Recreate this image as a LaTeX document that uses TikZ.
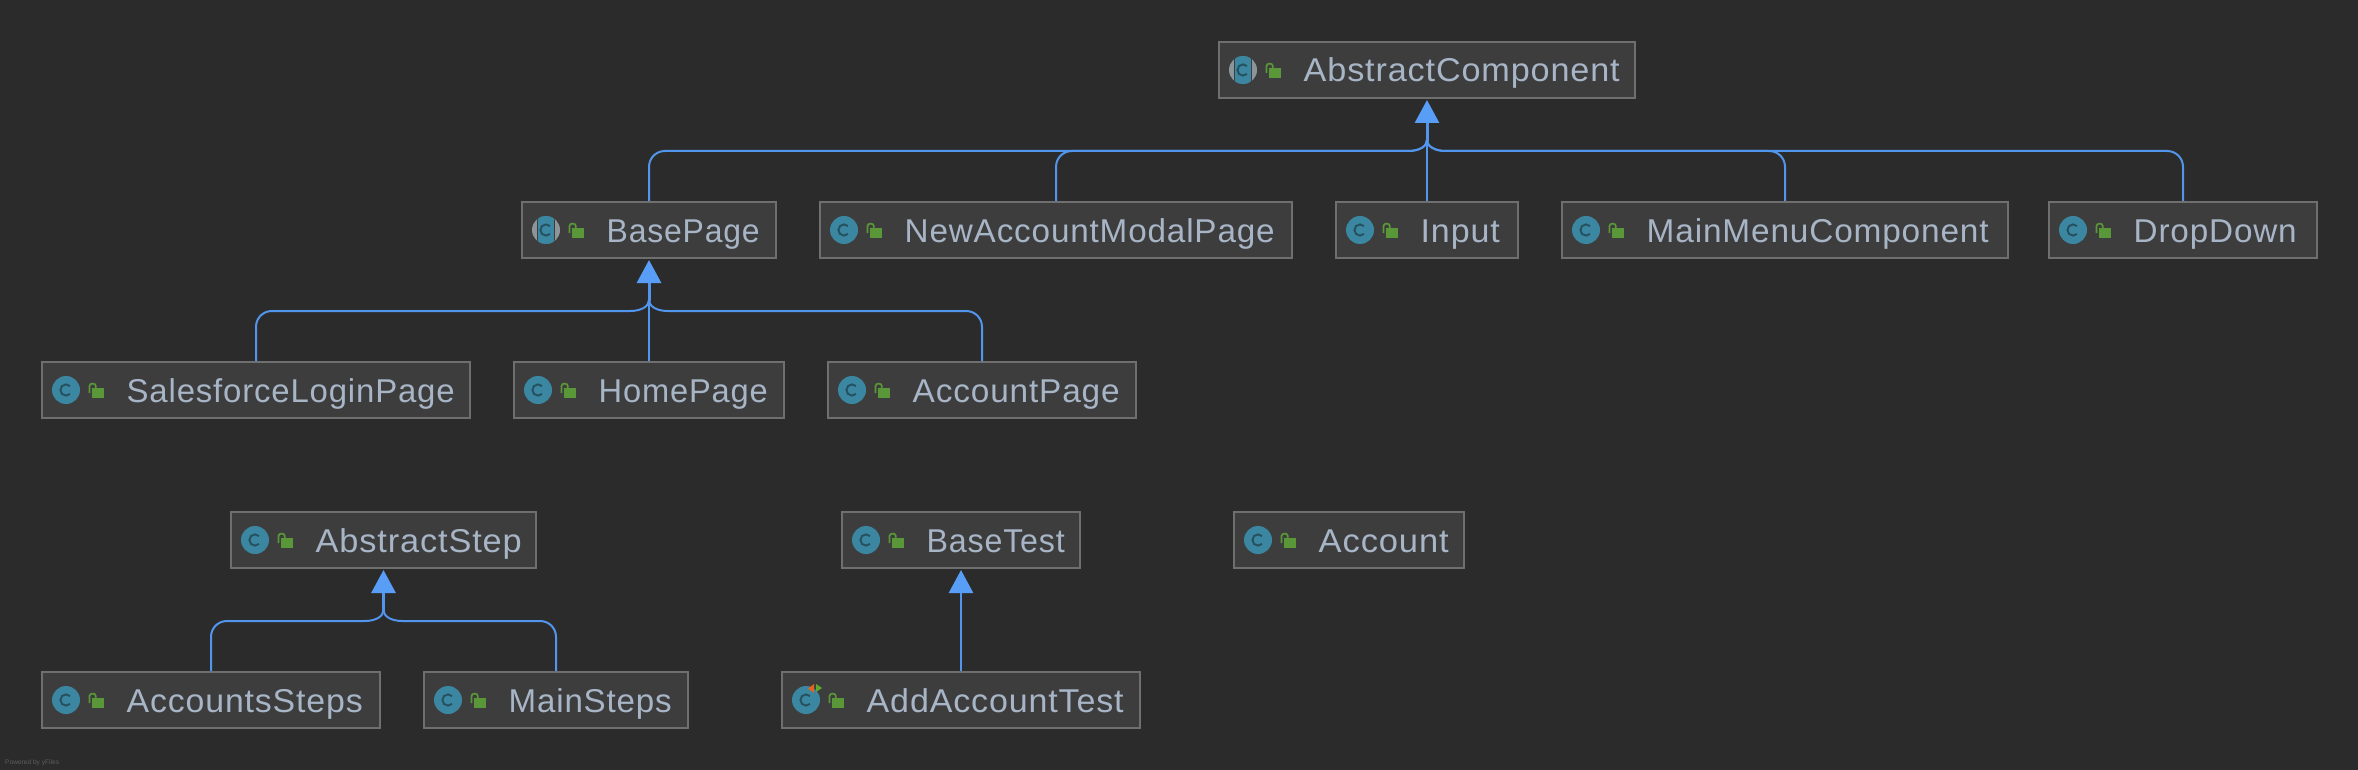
\documentclass[tikz,border=0pt]{standalone}
\usepackage{graphicx}
\usepackage{fontspec}
\setmainfont[LetterSpace=2.5]{Liberation Sans}
\newfontfamily\footfont{Liberation Sans}
\usetikzlibrary{arrows.meta}
\definecolor{bgc}{HTML}{2B2B2B}
\definecolor{boxc}{HTML}{3D3D3D}
\definecolor{edgec}{HTML}{6F6F6F}
\definecolor{txtc}{HTML}{A7B5C6}
\definecolor{linkc}{HTML}{5295EC}
\definecolor{tipc}{HTML}{589DF6}
\definecolor{tealc}{HTML}{3B87A2}
\definecolor{cinkc}{HTML}{25505F}
\definecolor{lockc}{HTML}{599738}
\definecolor{absc}{HTML}{8C9599}
\definecolor{orangec}{HTML}{E2641F}
\definecolor{greenc}{HTML}{5DA82E}
\newlength{\lblw}
\newcommand{\fitw}[2]{\settowidth{\lblw}{#2}\pgfmathsetmacro{\lblratio}{#1/\lblw}\scalebox{\lblratio}[1]{#2}}
\tikzset{
  clsbox/.style={draw=edgec,fill=boxc,line width=2pt,inner sep=0pt,anchor=north west},
  clstext/.style={inner sep=0pt,anchor=base west,text=txtc,font=\fontsize{33}{36}\selectfont},
  conn/.style={draw=linkc,line width=2pt},
  tiparrow/.style={conn,-{Triangle[length=23pt,width=24pt,color=tipc]}},
}
\newcommand{\clsicon}{%
  \fill[tealc] (25,29) circle[radius=14pt];
}
\newcommand{\absicon}{%
  \begin{scope}
    \clip (25,29) circle[radius=14pt];
    \fill[absc] (10,14) rectangle (40,44);
    \fill[boxc] (15.8,14) rectangle (34.2,44);
    \fill[tealc] (17.3,14) rectangle (32.7,44);
  \end{scope}
}
\newcommand{\testicon}{%
  \clsicon
  \fill[orangec] (33,13) -- (33,22) -- (27,17.5) -- cycle;
  \fill[greenc] (35,13) -- (35,21) -- (41,17) -- cycle;
}
% \cls{name}{x1}{x2}{y1}{label}{icon}{label width}
\newcommand{\cls}[7]{%
  \pgfmathsetmacro{\boxw}{#3-#2-2}
  \node[clsbox,minimum width=\boxw pt,minimum height=56pt] (#1) at (#2,#4) {};
  \begin{scope}[shift={(#1.north west)}]
    #6
    \draw[cinkc,line width=1.9pt] (25,29) ++(45:5.6pt) arc[start angle=45,end angle=315,radius=5.6pt];
    \fill[lockc] (51,27) rectangle (63,37);
    \draw[lockc,line width=1.7pt] (48.5,32) -- (48.5,25) .. controls (48.5,21.8) and (54.8,21.8) .. (54.8,25) -- (54.8,27);
  \end{scope}
  \node[clstext] (#1-t) at (#2+85.5,#4+41) {\fitw{#7}{#5}};
}
% child, parent, side of the child (-1 left, 1 right)
\newcommand{\inherit}[3]{%
  \coordinate (busmid) at ([yshift=-52pt]#2.south);
  \coordinate (buscorner) at (#1.north |- busmid);
  \draw[conn] (#1.north) -- ([yshift=-16pt]buscorner)
    .. controls ([yshift=-7pt]buscorner) and ([xshift=#3*-7pt]buscorner) .. ([xshift=#3*-16pt]buscorner)
    -- ([xshift=#3*19pt]busmid)
    .. controls ([xshift=#3*7pt]busmid) and ([yshift=5pt]busmid) .. ([yshift=11pt]busmid);
}
\newcommand{\trunk}[1]{%
  \draw[tiparrow,line width=3pt] ([yshift=-42pt]#1.south) -- ([yshift=-1pt]#1.south);
}
\begin{document}
\begin{tikzpicture}[x=1pt,y=-1pt]
  \useasboundingbox (0,0) rectangle (2358,770);
  \fill[bgc] (0,0) rectangle (2358,770);

  \cls{abstractcomponent}{1218}{1636}{41}{AbstractComponent}{\absicon}{316}
  \cls{basepage}{521}{777}{201}{BasePage}{\absicon}{153}
  \cls{newaccount}{819}{1293}{201}{NewAccountModalPage}{\clsicon}{370}
  \cls{input}{1335}{1519}{201}{Input}{\clsicon}{79}
  \cls{mainmenu}{1561}{2009}{201}{MainMenuComponent}{\clsicon}{342}
  \cls{dropdown}{2048}{2318}{201}{DropDown}{\clsicon}{163}
  \cls{salesforce}{41}{471}{361}{SalesforceLoginPage}{\clsicon}{328}
  \cls{homepage}{513}{785}{361}{HomePage}{\clsicon}{169}
  \cls{accountpage}{827}{1137}{361}{AccountPage}{\clsicon}{207}
  \cls{abstractstep}{230}{537}{511}{AbstractStep}{\clsicon}{206}
  \cls{basetest}{841}{1081}{511}{BaseTest}{\clsicon}{138}
  \cls{account}{1233}{1465}{511}{Account}{\clsicon}{130}
  \cls{accountssteps}{41}{381}{671}{AccountsSteps}{\clsicon}{236}
  \cls{mainsteps}{423}{689}{671}{MainSteps}{\clsicon}{163}
  \cls{addaccounttest}{781}{1141}{671}{AddAccountTest}{\testicon}{257}

  \inherit{basepage}{abstractcomponent}{-1}
  \inherit{newaccount}{abstractcomponent}{-1}
  \inherit{mainmenu}{abstractcomponent}{1}
  \inherit{dropdown}{abstractcomponent}{1}
  \draw[conn] (input.north) -- ([yshift=-30pt]abstractcomponent.south);
  \trunk{abstractcomponent}

  \inherit{salesforce}{basepage}{-1}
  \inherit{accountpage}{basepage}{1}
  \draw[conn] (homepage.north) -- ([yshift=-30pt]basepage.south);
  \trunk{basepage}

  \inherit{accountssteps}{abstractstep}{-1}
  \inherit{mainsteps}{abstractstep}{1}
  \trunk{abstractstep}

  \draw[tiparrow,line width=2.6pt] (addaccounttest.north) -- ([yshift=-1pt]basetest.south);

  \node[inner sep=0pt,anchor=base west,text=edgec!75!bgc,font=\footfont\fontsize{6.6}{8}\selectfont] (credit) at (5,764) {Powered by yFiles};
\end{tikzpicture}
\end{document}
